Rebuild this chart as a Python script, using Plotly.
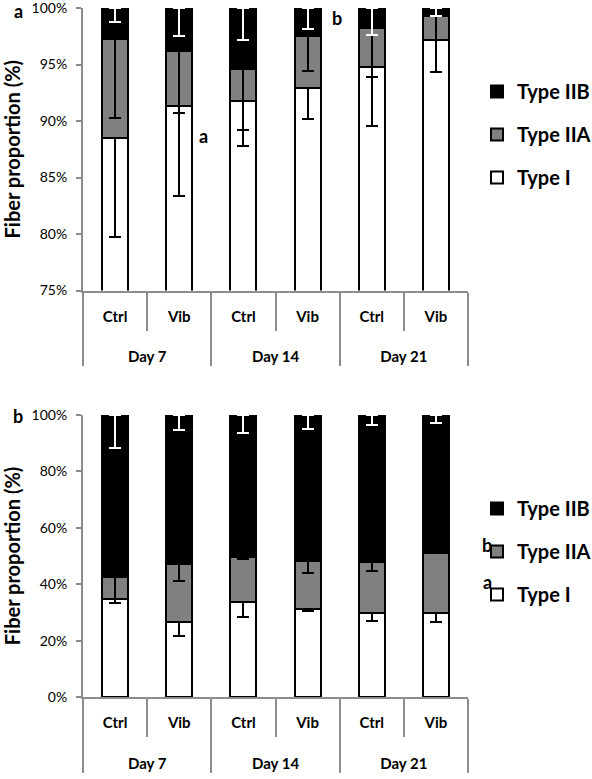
import plotly.graph_objects as go

# ---------------- data ----------------
days = ["Day 7", "Day 7", "Day 14", "Day 14", "Day 21", "Day 21"]
groups = ["Ctrl", "Vib", "Ctrl", "Vib", "Ctrl", "Vib"]
BLANK = "\u2800"  # invisible glyph used only to open up the two label rows
PAD = "<br>" + BLANK + "<br><sup>" + BLANK + "</sup>"
group_labels = [g + PAD for g in groups]

# panel a (%), stacked
typeI_a = [88.5, 91.3, 91.75, 92.9, 94.8, 97.2]
typeIIA_a = [8.8, 4.9, 2.85, 4.6, 3.45, 2.1]
typeIIB_a = [2.7, 3.8, 5.4, 2.5, 1.75, 0.7]
errI_a = [8.8, 7.95, 3.95, 2.7, 5.2, 2.85]
errIIA_a = [7.0, 5.5, 5.4, 3.1, 4.35, 2.1]
errIIB_a = [1.2, 2.5, 2.8, 1.9, 2.4, 0.7]

# panel b (%), stacked
typeI_b = [34.6, 26.7, 33.6, 31.1, 29.9, 29.7]
typeIIA_b = [8.1, 20.5, 16.2, 17.1, 18.0, 21.5]
typeIIB_b = [57.3, 52.8, 50.2, 51.8, 52.1, 48.8]
errI_b = [1.4, 5.2, 5.1, 0.6, 2.8, 3.0]
errIIA_b = [9.2, 6.1, 0.9, 4.1, 3.2, 0.3]
errIIB_b = [11.8, 5.3, 6.3, 5.0, 3.7, 2.9]

ytick_vals_a = [75, 80, 85, 90, 95, 100]
ytick_text_a = ["75%", "80%", "85%", "90%", "95%", "100%"]
ytick_vals_b = [0, 20, 40, 60, 80, 100]
ytick_text_b = ["0%", "20%", "40%", "60%", "80%", "100%"]

series_names = ["Type I", "Type IIA", "Type IIB"]
fills = ["white", "#808080", "black"]
err_colors = ["black", "black", "white"]
legend_ranks = [3, 2, 1]

FONT = "Lato, 'Liberation Sans', sans-serif"
W, H = 592, 779

fig = go.Figure()

def add_panel(vals, errs, xa, ya, legend):
    for i, (v, e) in enumerate(zip(vals, errs)):
        fig.add_trace(go.Bar(
            x=[days, group_labels], y=v, name=series_names[i],
            xaxis=xa, yaxis=ya, legend=legend, legendgroup=legend + str(i),
            legendrank=legend_ranks[i],
            marker=dict(color=fills[i], line=dict(color="black", width=2)),
            error_y=dict(type="data", symmetric=False,
                         array=[0] * len(e), arrayminus=e,
                         color=err_colors[i], thickness=2, width=6),
        ))

add_panel([typeI_a, typeIIA_a, typeIIB_a], [errI_a, errIIA_a, errIIB_a], "x", "y", "legend")
add_panel([typeI_b, typeIIA_b, typeIIB_b], [errI_b, errIIA_b, errIIB_b], "x2", "y2", "legend2")

xdom = [83 / W, 468 / W]
ydom_a = [1 - 290.5 / H, 1 - 8 / H]
ydom_b = [1 - 697 / H, 1 - 415 / H]

xaxis_common = dict(
    type="multicategory", domain=xdom, automargin=False,
    showline=True, linecolor="#8c8c8c", linewidth=2,
    ticks="outside", tickson="boundaries", ticklen=38, tickcolor="#8c8c8c", tickwidth=2,
    showdividers=True, dividercolor="#8c8c8c", dividerwidth=2,
    showgrid=False, zeroline=False, ticklabelstandoff=11,
    tickfont=dict(family=FONT, size=15, color="black", weight="bold"),
)
yaxis_common = dict(
    showline=True, linecolor="#8c8c8c", linewidth=2, automargin=False,
    ticks="outside", ticklen=5, tickcolor="#8c8c8c", tickwidth=2,
    showgrid=False, zeroline=False, ticklabelstandoff=6,
    ticklabeloverflow="allow",
    tickfont=dict(family=FONT, size=14, color="black"),
    title=dict(text="Fiber proportion (%)",
               font=dict(family=FONT, size=20, color="black", weight="bold"),
               standoff=12),
)

legend_common = dict(
    xanchor="left", yanchor="top",
    traceorder="grouped", tracegroupgap=14,
    font=dict(family=FONT, size=20, color="black", weight="bold"),
    bgcolor="rgba(0,0,0,0)",
)

fig.update_layout(
    width=W, height=H,
    margin=dict(l=0, r=0, t=0, b=0, autoexpand=False),
    paper_bgcolor="white", plot_bgcolor="white",
    barmode="stack", bargap=0.594,
    font=dict(family=FONT, color="black"),
    xaxis=dict(xaxis_common, anchor="y"),
    yaxis=dict(yaxis_common, domain=ydom_a, range=[75, 100],
               tickvals=ytick_vals_a, ticktext=ytick_text_a, anchor="x"),
    xaxis2=dict(xaxis_common, anchor="y2"),
    yaxis2=dict(yaxis_common, domain=ydom_b, range=[0, 100],
                tickvals=ytick_vals_b, ticktext=ytick_text_b, anchor="x2"),
    legend=dict(legend_common, x=477 / W, y=1 - 72 / H),
    legend2=dict(legend_common, x=477 / W, y=1 - 489 / H),
    showlegend=True,
)

ann_font = dict(family=FONT, size=18, color="black", weight="bold")
annotations = [
    dict(text="a", x=18 / W, y=1 - 11 / H),
    dict(text="b", x=18 / W, y=1 - 416 / H),
    dict(text="a", x=203 / W, y=1 - 136 / H),
    dict(text="b", x=337 / W, y=1 - 18 / H),
    dict(text="b", x=487 / W, y=1 - 545 / H),
    dict(text="a", x=487 / W, y=1 - 582 / H),
]
for a in annotations:
    fig.add_annotation(xref="paper", yref="paper", showarrow=False,
                       xanchor="center", yanchor="middle", font=ann_font, **a)

fig.write_html("out.html", config={"displayModeBar": False},
               post_script="document.body.style.margin='0';document.body.style.padding='0';")
